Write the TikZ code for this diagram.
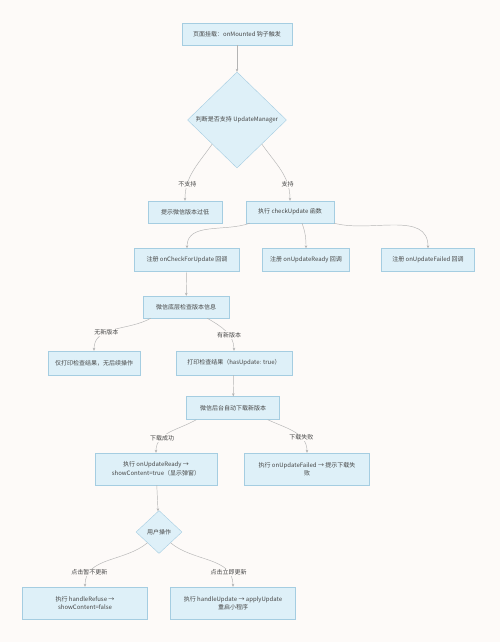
\documentclass[tikz,border=0pt]{standalone}
\usepackage{fontspec}
\setmainfont{Noto Sans CJK SC}
\usepackage{xcolor}
\usepackage{tikz}
\usetikzlibrary{arrows.meta,positioning,shapes.geometric}
\definecolor{paperbg}{RGB}{253,250,248}
\definecolor{flowfill}{RGB}{222,240,248}
\definecolor{flowedge}{RGB}{165,205,225}
\definecolor{linkgray}{RGB}{180,180,180}
\definecolor{inkgray}{RGB}{70,70,70}

\begin{document}
\begin{tikzpicture}[x=1pt, y=1pt,
    every node/.style={font=\fontsize{6}{8.5}\selectfont, text=inkgray},
    flowbox/.style={draw=flowedge, fill=flowfill, rectangle, minimum height=22pt, inner sep=2pt, align=center},
    flowdec/.style={draw=flowedge, fill=flowfill, diamond, inner sep=0pt, align=center},
    link/.style={draw=linkgray, line width=0.45pt, -{Stealth[length=3pt,width=2.6pt]}},
    lbl/.style={fill=paperbg, inner sep=1pt}]
  \fill[paperbg] (0,0) rectangle (500,-642);
  \useasboundingbox (0,0) rectangle (500,-642);

  % start and check
  \node[flowbox, minimum width=110pt] (mount) at (237,-34) {页面挂载：onMounted 钩子触发};
  \node[flowdec, minimum width=99pt, minimum height=96pt] (support) at (237,-120) {判断是否支持 UpdateManager};
  \node[flowbox, minimum width=74pt] (oldver) at (185,-212) {提示微信版本过低};
  \node[flowbox, minimum width=88pt] (check) at (290,-212) {执行 checkUpdate 函数};

  % callbacks
  \foreach \nm/\x/\w/\cb in {cbcheck/187/105/onCheckForUpdate, cbready/306/87/onUpdateReady, cbfail/428/93/onUpdateFailed}{
    \node[flowbox, minimum width=\w pt, minimum height=23pt] (\nm) at (\x,-260) {注册 \cb\ 回调};
  }

  \node[flowbox, minimum width=86pt] (wxcheck) at (186,-307) {微信底层检查版本信息};
  \node[flowbox, minimum width=92pt, minimum height=24pt] (noupd) at (94,-363) {仅打印检查结果，无后续操作};
  \node[flowbox, minimum width=116pt, minimum height=24pt] (hasupd) at (234,-363) {打印检查结果（hasUpdate: true）};
  \node[flowbox, minimum width=93pt, minimum height=23pt] (download) at (233,-408) {微信后台自动下载新版本};
  \node[flowbox, minimum width=122pt, minimum height=32pt] (ready) at (156,-469) {执行 onUpdateReady →\\showContent=true（显示弹窗）};
  \node[flowbox, minimum width=125pt, minimum height=32pt] (failed) at (307,-469) {执行 onUpdateFailed → 提示下载失\\败};

  % user choice
  \node[flowdec, minimum width=46pt, minimum height=43pt] (userop) at (159,-532) {用户操作};
  \node[flowbox, minimum width=125pt, minimum height=32pt] (refuse) at (85,-603) {执行 handleRefuse →\\showContent=false};
  \node[flowbox, minimum width=125pt, minimum height=32pt] (apply) at (233,-603) {执行 handleUpdate → applyUpdate\\重启小程序};

  % links
  \draw[link] (mount) -- (support);
  \draw[link] (support.south west) to[out=-125, in=90] node[lbl, pos=0.75] {不支持} (oldver);
  \draw[link] (support.south east) to[out=-55, in=90] node[lbl, pos=0.75] {支持} (check);
  \draw[link] ([xshift=4pt]check.south west) to[out=-160, in=90] (cbcheck);
  \draw[link] ([xshift=12pt]check.south) to[out=-70, in=90] (cbready);
  \draw[link] (check.south east) to[out=-15, in=90] (cbfail);
  \draw[link] (cbcheck) -- (wxcheck);
  \draw[link] ([xshift=8pt]wxcheck.south west) to[out=-150, in=90] node[lbl, pos=0.62] {无新版本} (noupd);
  \draw[link] ([xshift=-22pt]wxcheck.south east) to[out=-30, in=90] node[lbl, pos=0.62] {有新版本} (hasupd);
  \draw[link] (hasupd) -- (download);
  \draw[link] ([xshift=10pt]download.south west) to[out=-150, in=90] node[lbl, pos=0.68] {下载成功} (ready);
  \draw[link] ([xshift=-12pt]download.south east) to[out=-25, in=90] node[lbl, pos=0.68] {下载失败} (failed);
  \draw[link] (ready) -- (userop);
  \draw[link] (userop.south west) to[out=-140, in=90] node[lbl, pos=0.8] {点击暂不更新} (refuse);
  \draw[link] (userop.south east) to[out=-40, in=90] node[lbl, pos=0.8] {点击立即更新} (apply);
\end{tikzpicture}
\end{document}
